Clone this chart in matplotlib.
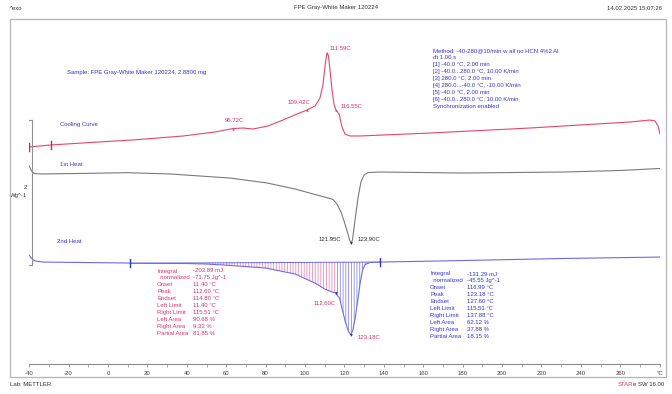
import matplotlib
matplotlib.use("Agg")
import matplotlib.pyplot as plt
from matplotlib.patches import Rectangle
import numpy as np

plt.rcParams['font.family'] = ['Liberation Sans', 'DejaVu Sans']
plt.rcParams['hatch.linewidth'] = 0.6

# ---------------- data (temperature in degC, heat flow in W/g, relative) --------------
cool_T = [-40.0, -28.9, -9.1, 12.7, 38.1, 54.3, 63.5, 68.5, 73.6, 81.2, 88.8, 95.9,
          101.0, 105.1, 107.6, 109.1, 110.4, 111.2, 111.9, 112.7, 113.7, 114.7, 115.7,
          117.3, 118.8, 120.3, 122.8, 127.9, 163.5, 214.2, 265.0, 275.1, 277.7, 279.2, 280.2]
cool_HF = [0.000, 0.028, 0.062, 0.097, 0.152, 0.207, 0.255, 0.262, 0.248, 0.290, 0.372, 0.455,
           0.510, 0.566, 0.676, 0.855, 1.172, 1.297, 1.255, 1.062, 0.786, 0.593, 0.510,
           0.455, 0.276, 0.179, 0.152, 0.152, 0.193, 0.262, 0.345, 0.372, 0.359, 0.290, 0.179]

heat1_T = [-40.0, -38.8, -37.5, -34.0, -14.2, 9.6, 31.5, 46.7, 61.9, 80.7, 94.9, 106.1,
           111.7, 114.2, 116.2, 118.3, 120.3, 121.8, 122.8, 123.4, 124.1, 125.4, 126.9,
           128.4, 130.0, 132.0, 138.1, 180.2, 231.0, 259.9, 280.2]
heat1_HF = [0.000, -0.069, -0.103, -0.110, -0.103, -0.092, -0.110, -0.138, -0.166, -0.234,
            -0.317, -0.400, -0.441, -0.462, -0.524, -0.634, -0.800, -0.938, -1.034, -1.062,
            -1.021, -0.745, -0.441, -0.221, -0.124, -0.090, -0.083, -0.097, -0.083, -0.062, -0.034]

heat2_T = [-40.0, -38.8, -37.0, -33.0, 10.0, 11.4, 40.0, 50.0, 63.0, 80.0, 95.0, 105.0,
           110.0, 113.0, 115.5, 117.5, 119.0, 120.5, 122.0, 123.2, 124.3, 125.5, 126.8,
           128.0, 129.2, 130.5, 133.0, 137.9, 180.0, 230.0, 280.2]
heat2_HF = [0.000, -0.048, -0.083, -0.097, -0.110, -0.113, -0.117, -0.124, -0.145, -0.179,
            -0.262, -0.386, -0.469, -0.503, -0.524, -0.593, -0.759, -0.924, -1.048, -1.103,
            -1.034, -0.869, -0.621, -0.386, -0.207, -0.131, -0.103, -0.097, -0.076, -0.048, -0.028]

# integration limits
lim_left, lim_split, lim_right = 11.40, 115.51, 137.88

# tick labels
xticks = list(range(-40, 300, 20))
xticklabels = [str(t) for t in xticks[:-1]] + ['°C']

# annotation texts
peak_cool = ['96.72C', '109.42C', '111.59C', '116.55C']
peak_h1 = ['121.95C', '123.90C']
peak_h2 = ['112.60C', '123.18C']

int1_names = ['Integral', '  normalized', 'Onset', 'Peak', 'Endset', 'Left Limit',
              'Right Limit', 'Left Area', 'Right Area', 'Partial Area']
int1_vals = ['-203.89 mJ', '-71.75 Jg^-1', '11.40 °C', '112.60 °C', '114.80 °C', '11.40 °C',
             '115.51 °C', '90.68 %', '9.32 %', '81.85 %']
int2_vals = ['-131.29 mJ', '-45.55 Jg^-1', '116.99 °C', '123.18 °C', '127.60 °C', '115.51 °C',
             '137.88 °C', '62.12 %', '37.88 %', '18.15 %']

method_lines = ['Method: -40-280@10/min w all no HCN 4%2 Al',
                'dt 1.00 s',
                '[1] -40.0 °C, 2.00 min',
                '[2] -40.0...280.0 °C, 10.00 K/min',
                '[3] 280.0 °C, 2.00 min',
                '[4] 280.0...-40.0 °C, -10.00 K/min',
                '[5] -40.0 °C, 2.00 min',
                '[6] -40.0...280.0 °C, 10.00 K/min',
                'Synchronization enabled']

# ---------------- styling / layout ----------------
W, H = 672, 394
RED = '#e8456a'
GRAY = '#7a7a7a'
BLUE = '#6b6be6'
TXT_BLUE = '#3434d8'
TXT_RED = '#e0306a'
FS = 4.3

off_cool, off_h1, off_h2 = 2.993, 2.731, 1.503

fig = plt.figure(figsize=(W / 100, H / 100), dpi=100)
fig.patches.append(Rectangle((10 / W, 1 - 377 / H), 656 / W, 358 / H, transform=fig.transFigure,
                             fill=False, edgecolor='#b4b4b4', linewidth=0.9))

ax = fig.add_axes([29.2 / W, 1 - 364 / H, (659.6 - 29.2) / W, (364 - 19) / H])
ax.set_xlim(-40, 280)
ax.set_ylim(0, (364 - 19) / 72.5)
for s in ['top', 'left', 'right']:
    ax.spines[s].set_visible(False)
ax.spines['bottom'].set_color('#8c8c8c')
ax.spines['bottom'].set_linewidth(0.8)
ax.set_yticks([])
ax.set_xticks(xticks)
ax.set_xticklabels(xticklabels, fontsize=FS, color='#404040')
ax.set_xticks(list(range(-30, 280, 20)), minor=True)
ax.tick_params(axis='x', which='major', length=2.5, width=0.6, color='#8c8c8c', pad=2.5)
ax.tick_params(axis='x', which='minor', length=1.8, width=0.5, color='#8c8c8c')
ax.patch.set_alpha(0)

cT = np.array(cool_T); cY = np.array(cool_HF) + off_cool
h1T = np.array(heat1_T); h1Y = np.array(heat1_HF) + off_h1
h2T = np.array(heat2_T); h2Y = np.array(heat2_HF) + off_h2

# integration baseline and hatching (2nd heat)
b0 = np.interp(lim_left, h2T, h2Y)
b1 = np.interp(lim_right, h2T, h2Y)
base = b0 + (b1 - b0) * (h2T - lim_left) / (lim_right - lim_left)
m1 = (h2T >= lim_left) & (h2T <= lim_split + 0.01)
m2 = (h2T >= lim_split - 0.01) & (h2T <= lim_right)
ax.fill_between(h2T, h2Y, base, where=m1, facecolor='none', edgecolor='#f08cb4',
                hatch='||||||', linewidth=0)
ax.fill_between(h2T, h2Y, base, where=m2, facecolor='none', edgecolor='#8c8ce8',
                hatch='||||||', linewidth=0)
ax.plot([lim_left, lim_right], [b0, b1], color=BLUE, lw=0.7)

ax.plot(cT, cY, color=RED, lw=0.8)
ax.plot(h1T, h1Y, color=GRAY, lw=0.8)
ax.plot(h2T, h2Y, color=BLUE, lw=0.8)

# limit markers
bar = 0.055
for t, y in [(lim_left, b0), (lim_right, b1)]:
    ax.plot([t, t], [y - bar, y + bar], color='#3030c0', lw=1.0)
for t in [-40.0, -28.9]:
    y = np.interp(t, cT, cY)
    ax.plot([t, t], [y - bar, y + bar], color='#d02040', lw=1.0)

# small characteristic-point markers
for t in [63.5, 101.0, 111.2, 115.7]:
    ax.plot(t, np.interp(t, cT, cY), marker='^', ms=1.8, color=RED, mew=0)
ax.plot(123.4, np.interp(123.4, h1T, h1Y), marker='v', ms=2.0, color='#333333', mew=0)
for t in [115.5, 123.2]:
    ax.plot(t, np.interp(t, h2T, h2Y), marker='v', ms=2.0, color='#3030c0', mew=0)

# scale bar (2 W/g)
sx = -38.6
ax.plot([sx, sx], [1.366, 3.366], color='#909090', lw=0.8, clip_on=False)
ax.plot([sx - 1.3, sx], [1.366, 1.366], color='#909090', lw=0.8, clip_on=False)
ax.plot([sx - 1.3, sx], [3.366, 3.366], color='#909090', lw=0.8, clip_on=False)
ax.text(sx - 2.3, 2.428, '2', fontsize=FS, ha='right', va='center', color='#333333')
ax.text(sx - 2.3, 2.320, 'Wg^-1', fontsize=FS, ha='right', va='center', color='#333333')

# curve labels
ax.text(-20.8, 4.014, 'Sample: FPE Gray-White Maker 120224, 2.8800 mg', fontsize=FS,
        color=TXT_BLUE, va='center')
ax.text(-24.4, 3.310, 'Cooling Curve', fontsize=FS, color=TXT_BLUE, va='center')
ax.text(-24.4, 2.745, '1st Heat', fontsize=FS, color=TXT_BLUE, va='center')
ax.text(-25.9, 1.683, '2nd Heat', fontsize=FS, color=TXT_BLUE, va='center')

for (x, y), s in zip([(59.4, 3.352), (90.9, 3.600), (112.7, 4.345), (117.8, 3.545)], peak_cool):
    ax.text(x, y, s, fontsize=FS, color=TXT_RED, va='center')
ax.text(118.3, 1.724, peak_h1[0], fontsize=FS, color='#333333', va='center', ha='right')
ax.text(126.9, 1.724, peak_h1[1], fontsize=FS, color='#333333', va='center')
ax.text(104.1, 0.841, peak_h2[0], fontsize=FS, color=TXT_RED, va='center')
ax.text(126.9, 0.359, peak_h2[1], fontsize=FS, color=TXT_RED, va='center')

# integration result tables
step = 6.9 / 72.5
for i, (n, v) in enumerate(zip(int1_names, int1_vals)):
    y = (364 - 271) / 72.5 - i * step
    ax.text(24.9, y, n, fontsize=FS, color=TXT_RED, va='center')
    ax.text(43.1, y, v, fontsize=FS, color=TXT_RED, va='center')
for i, (n, v) in enumerate(zip(int1_names, int2_vals)):
    y = (364 - 274) / 72.5 - i * step
    ax.text(163.5, y, n, fontsize=FS, color=TXT_BLUE, va='center')
    ax.text(182.2, y, v, fontsize=FS, color=TXT_BLUE, va='center')

for i, s in enumerate(method_lines):
    y = (364 - 51) / 72.5 - i * step
    ax.text(165.0, y, s, fontsize=FS, color=TXT_BLUE, va='center')

# header / footer
fig.text(10 / W, 1 - 8 / H, '^exo', fontsize=FS, va='center', color='#333333')
fig.text(0.5, 1 - 8 / H, 'FPE Gray-White Maker 120224', fontsize=FS, va='center',
         ha='center', color='#333333')
fig.text(662 / W, 1 - 8 / H, '14.02.2025 15:07:26', fontsize=FS, va='center', ha='right',
         color='#333333')
fig.text(10 / W, 1 - 384 / H, 'Lab: METTLER', fontsize=FS, va='center', color='#333333')
fig.text(633 / W, 1 - 384 / H, 'STAR', fontsize=FS, va='center', ha='right', color='#e0306a')
fig.text(633 / W, 1 - 384 / H, 'e SW 16.00', fontsize=FS, va='center', ha='left', color='#333333')

fig.savefig('out.png', dpi=100, facecolor='white')
